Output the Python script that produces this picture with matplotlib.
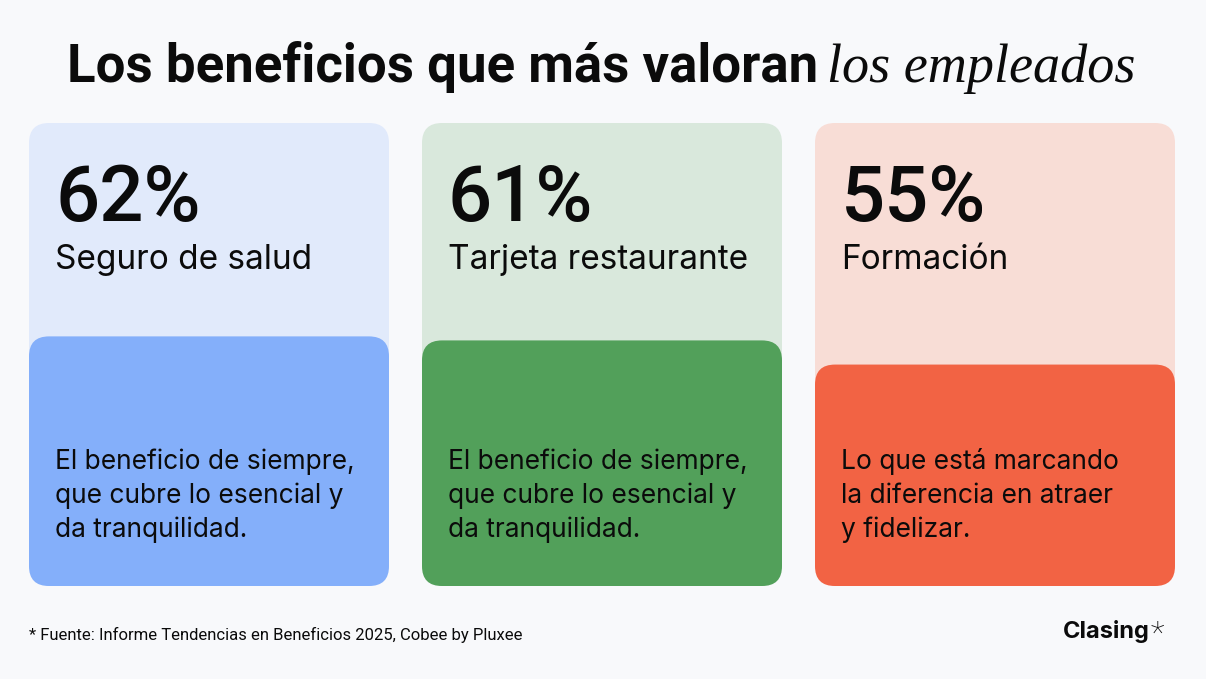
import matplotlib
matplotlib.use("Agg")
import matplotlib.pyplot as plt
from matplotlib.patches import FancyBboxPatch

# data
percentages = [62, 61, 55]
benefits = ["Seguro de salud", "Tarjeta restaurante", "Formación"]
descriptions = [
    ["El beneficio de siempre,", "que cubre lo esencial y", "da tranquilidad."],
    ["El beneficio de siempre,", "que cubre lo esencial y", "da tranquilidad."],
    ["Lo que está marcando", "la diferencia en atraer", "y fidelizar."],
]
light_colors = ["#E1EAFB", "#D9E8DC", "#F8DDD6"]
strong_colors = ["#84AFFA", "#52A05A", "#F26344"]
title_bold = "Los beneficios que más valoran "
title_italic = "los empleados"
source = "* Fuente: Informe Tendencias en Beneficios 2025, Cobee by Pluxee"

W, H = 1206, 679
BG = "#F8F9FB"
INK = "#0B0B0B"
SANS = ["Inter", "DejaVu Sans"]
NARROW = ["Roboto", "DejaVu Sans"]

fig = plt.figure(figsize=(W / 100, H / 100), dpi=100, facecolor=BG)


def fx(x):
    return x / W


def fy(y):
    return 1 - y / H


# cards
card_left = [29, 422, 815]
card_w, card_top, card_bottom = 360, 123, 586
card_h = card_bottom - card_top
YMAX = 115.0  # percent units covering the full card height
radius = 20

for i, val in enumerate(percentages):
    ax = fig.add_axes([fx(card_left[i]), fy(card_bottom), card_w / W, card_h / H])
    ax.set_xlim(0, card_w)
    ax.set_ylim(0, YMAX)
    ax.axis("off")
    aspect = YMAX / card_h
    ax.add_patch(FancyBboxPatch((0, 0), card_w, YMAX,
                                boxstyle=f"round,pad=0,rounding_size={radius}",
                                mutation_aspect=aspect, fc=light_colors[i], ec="none"))
    ax.add_patch(FancyBboxPatch((0, 0), card_w, val,
                                boxstyle=f"round,pad=0,rounding_size={radius}",
                                mutation_aspect=aspect, fc=strong_colors[i], ec="none"))

    x0 = card_left[i] + 26
    fig.text(fx(x0), fy(221), f"{val}%", fontsize=56, family=NARROW,
             weight="medium", color=INK, va="baseline")
    fig.text(fx(x0), fy(269), benefits[i], fontsize=24, family=SANS,
             color=INK, va="baseline")
    for j, line in enumerate(descriptions[i]):
        fig.text(fx(x0), fy(469 + 34 * j), line, fontsize=19, family=SANS,
                 color=INK, va="baseline")

# title in two fonts, centred as a whole
t1 = fig.text(0, fy(82), title_bold, fontsize=38, family=NARROW, weight="bold",
              color=INK, va="baseline")
t2 = fig.text(0, fy(82), title_italic, fontsize=39, family=["Liberation Serif", "DejaVu Serif"],
              style="italic", color=INK, va="baseline")
renderer = fig.canvas.get_renderer()
w1 = t1.get_window_extent(renderer).width
w2 = t2.get_window_extent(renderer).width
start = (W - (w1 + w2)) / 2
t1.set_x(fx(start))
t2.set_x(fx(start + w1 - 4))

# footer
fig.text(fx(29), fy(640), source, fontsize=12, family=NARROW, color=INK, va="baseline")
logo = fig.text(fx(1063), fy(638), "Clasing", fontsize=17, family=SANS, weight="bold",
                color=INK, va="baseline")
lw = logo.get_window_extent(renderer).width
fig.text(fx(1063 + lw + 1), fy(620), "*", fontsize=23, family=NARROW, weight="light",
         color=INK, va="top")

fig.savefig("out.png", dpi=100, facecolor=BG)
